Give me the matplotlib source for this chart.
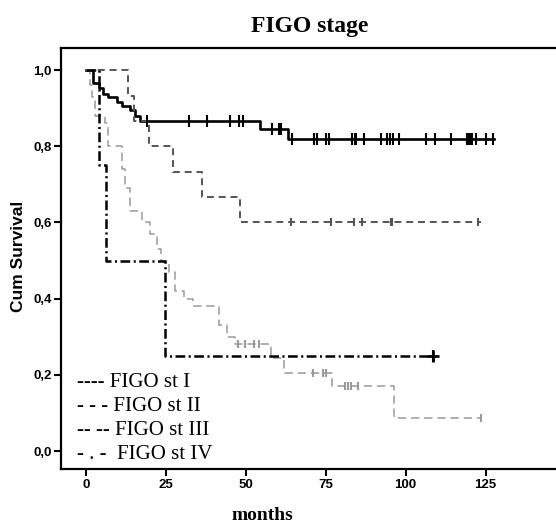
import numpy as np
import matplotlib
matplotlib.use('Agg')
import matplotlib.pyplot as plt

plt.rcParams['lines.scale_dashes'] = False

# Kaplan-Meier steps (months, cum survival)
ST1_T = [0, 2.3, 3.9, 5.4, 7.0, 9.6, 11.2, 13.8, 15.4, 16.9, 54.3, 63.3, 127.5]
ST1_S = [1.0, 0.967, 0.954, 0.938, 0.928, 0.917, 0.905, 0.895, 0.88, 0.867, 0.845, 0.82, 0.82]
ST1_CENS = [19.2, 32.1, 37.8, 45.1, 47.9, 49.1, 58.2, 60.3, 61.0, 64.5, 71.3, 72.1,
            75.2, 76.1, 83.3, 84.0, 84.6, 86.9, 92.2, 94.3, 95.1, 95.9, 97.9, 106.3,
            109.1, 114.1, 119.3, 119.9, 120.4, 120.9, 122.0, 125.1, 127.2]

ST2_T = [0, 13.2, 15.0, 19.8, 27.2, 36.3, 48.3, 123.5]
ST2_S = [1.0, 0.933, 0.867, 0.8, 0.733, 0.667, 0.6, 0.6]
ST2_CENS = [64.0, 76.5, 83.8, 86.4, 95.3, 95.8, 122.5]

ST3_T = [0, 1.3, 2.0, 2.8, 6.0, 7.0, 11.2, 12.2, 13.8, 17.5, 20.0, 22.2, 23.5, 25.8,
         27.9, 30.5, 33.6, 41.5, 44.0, 46.7, 58.0, 62.0, 77.0, 96.3, 123.5]
ST3_S = [1.0, 0.96, 0.93, 0.88, 0.86, 0.80, 0.74, 0.69, 0.63, 0.60, 0.57, 0.53, 0.50,
         0.47, 0.42, 0.40, 0.38, 0.33, 0.30, 0.28, 0.245, 0.206, 0.171, 0.086, 0.086]
ST3_CENS = [47.6, 49.8, 52.4, 54.0, 71.0, 74.0, 75.0, 81.0, 82.0, 83.0, 85.0, 123.5]

ST4_T = [0, 3.9, 6.3, 24.8, 108.4]
ST4_S = [1.0, 0.75, 0.5, 0.25, 0.25]
ST4_CENS = [108.4]

LEGEND_LINES = ['---- FIGO st I', '- - - FIGO st II', '-- -- FIGO st III', '- . -  FIGO st IV']
XTICKS = [0, 25, 50, 75, 100, 125]
YTICKS = [0.0, 0.2, 0.4, 0.6, 0.8, 1.0]
YTICK_LABELS = ['0,0', '0,2', '0,4', '0,6', '0,8', '1,0']


def surv_at(t, s, c):
    t = np.asarray(t)
    s = np.asarray(s)
    idx = np.searchsorted(t, c, side='right') - 1
    return s[idx]


fig = plt.figure(figsize=(5.56, 5.27), dpi=100)
fig.patch.set_facecolor('white')
ax = fig.add_axes([0.1106, 0.1101, 0.8995, 0.7989])

series = [
    (ST1_T, ST1_S, ST1_CENS, dict(color='black', lw=1.9, linestyle='-'), 'black', 8),
    (ST2_T, ST2_S, ST2_CENS, dict(color='#555555', lw=1.4, dashes=(5, 3.5)), '#555555', 6),
    (ST3_T, ST3_S, ST3_CENS, dict(color='#9a9a9a', lw=1.1, dashes=(6, 3.5)), '#9a9a9a', 6),
    (ST4_T, ST4_S, ST4_CENS, dict(color='black', lw=1.8, dashes=(7, 2.5, 1.5, 2.5)), 'black', 9),
]

for t, s, cens, style, mcol, ms in series:
    ax.step(t, s, where='post', zorder=3, **style)
    ax.plot(cens, surv_at(t, s, cens), linestyle='none', marker='|',
            color=mcol, markersize=ms, mew=1.5, zorder=4)

ax.plot(ST4_CENS, surv_at(ST4_T, ST4_S, ST4_CENS), linestyle='none', marker='+',
        color='black', markersize=9, mew=2, zorder=4)

ax.set_xlim(-7.7, 148.8)
ax.set_ylim(-0.047, 1.058)
ax.set_xticks(XTICKS)
ax.set_yticks(YTICKS)
ax.set_yticklabels(YTICK_LABELS)
ax.tick_params(direction='out', length=5, width=1.5, pad=2)
for lab in ax.get_xticklabels() + ax.get_yticklabels():
    lab.set_fontfamily('Liberation Sans')
    lab.set_fontweight('bold')
    lab.set_fontsize(9.5)

for side in ['left', 'bottom', 'top']:
    ax.spines[side].set_linewidth(1.6)
    ax.spines[side].set_color('black')
ax.spines['right'].set_visible(False)

# legend written as plain text like the original
for i, txt in enumerate(LEGEND_LINES):
    ax.text(77 / 556, 1 - (386.7 + 24 * i) / 527, txt,
            transform=fig.transFigure, ha='left', va='baseline',
            fontfamily='Liberation Serif', fontsize=15, color='black')

fig.text(310 / 556, 1 - 32 / 527, 'FIGO stage', ha='center', va='baseline',
         fontfamily='Liberation Serif', fontweight='bold', fontsize=17)
fig.text(262 / 556, 1 - 520 / 527, 'months', ha='center', va='baseline',
         fontfamily='Liberation Serif', fontweight='bold', fontsize=14)
fig.text(19 / 556, 1 - 256.5 / 527, 'Cum Survival', ha='center', va='center',
         rotation=90, fontfamily='Liberation Sans', fontweight='bold', fontsize=12.5)

plt.savefig('out.png', dpi=100, facecolor='white')
